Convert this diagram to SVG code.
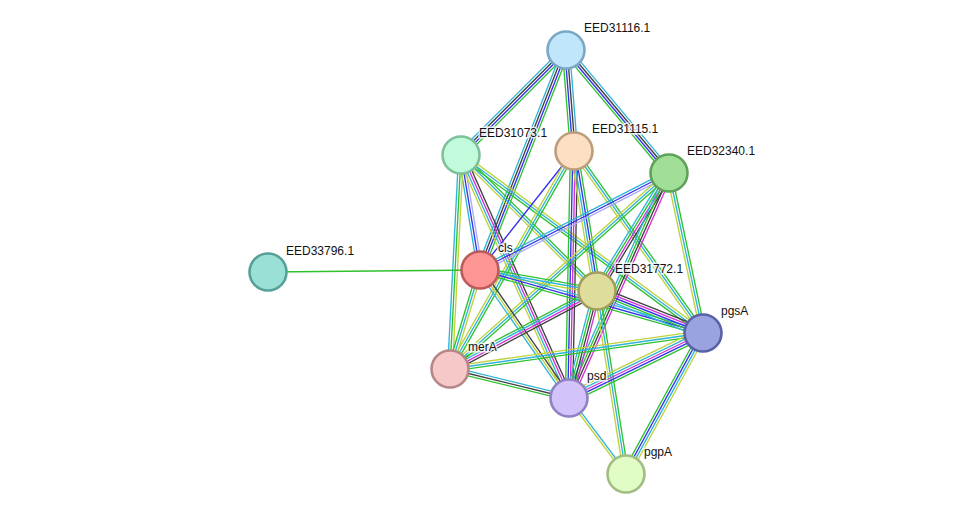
<svg xmlns="http://www.w3.org/2000/svg" width="975" height="519" viewBox="0 0 975 519">
<style>
line{stroke-width:1.35;fill:none}
.g{stroke:#2ec22e}.b{stroke:#3232f0}.k{stroke:#404040}.c{stroke:#30b4d8}.m{stroke:#d430d4}.y{stroke:#bfd23a}.p{stroke:#aaaaf5}
circle{stroke-width:2.6}
text{font-family:"Liberation Sans",Arial,sans-serif;font-size:12px;fill:#111;paint-order:stroke;stroke:#fff;stroke-width:3px;stroke-opacity:0.8}
</style>
<rect width="975" height="519" fill="#fff"/>
<g id="edges">
<g transform="translate(566,50) rotate(135)"><line x2="148.5" y1="-3.6" y2="-3.6" class="g"/><line x2="148.5" y1="-1.2" y2="-1.2" class="b"/><line x2="148.5" y1="1.2" y2="1.2" class="k"/><line x2="148.5" y1="3.6" y2="3.6" class="c"/></g>
<g transform="translate(566,50) rotate(111.35)"><line x2="236.2" y1="-3.6" y2="-3.6" class="g"/><line x2="236.2" y1="-1.2" y2="-1.2" class="b"/><line x2="236.2" y1="1.2" y2="1.2" class="k"/><line x2="236.2" y1="3.6" y2="3.6" class="c"/></g>
<g transform="translate(566,50) rotate(85.47)"><line x2="101.3" y1="-3.6" y2="-3.6" class="c"/><line x2="101.3" y1="-1.2" y2="-1.2" class="k"/><line x2="101.3" y1="1.2" y2="1.2" class="b"/><line x2="101.3" y1="3.6" y2="3.6" class="g"/></g>
<g transform="translate(566,50) rotate(50.06)"><line x2="160.4" y1="-3.6" y2="-3.6" class="c"/><line x2="160.4" y1="-1.2" y2="-1.2" class="k"/><line x2="160.4" y1="1.2" y2="1.2" class="b"/><line x2="160.4" y1="3.6" y2="3.6" class="g"/></g>
<g transform="translate(461,155) rotate(80.62)"><line x2="116.6" y1="-2.4" y2="-2.4" class="p"/><line x2="116.6" y1="0" y2="0" class="b"/><line x2="116.6" y1="2.4" y2="2.4" class="c"/></g>
<g transform="translate(461,155) rotate(66.04)"><line x2="265.9" y1="-3.6" y2="-3.6" class="k"/><line x2="265.9" y1="-1.2" y2="-1.2" class="m"/><line x2="265.9" y1="1.2" y2="1.2" class="c"/><line x2="265.9" y1="3.6" y2="3.6" class="y"/></g>
<g transform="translate(461,155) rotate(92.94)"><line x2="214.3" y1="-2.4" y2="-2.4" class="y"/><line x2="214.3" y1="0" y2="0" class="g"/><line x2="214.3" y1="2.4" y2="2.4" class="c"/></g>
<g transform="translate(461,155) rotate(45)"><line x2="192.3" y1="-2.4" y2="-2.4" class="g"/><line x2="192.3" y1="0" y2="0" class="c"/><line x2="192.3" y1="2.4" y2="2.4" class="y"/></g>
<g transform="translate(461,155) rotate(36.33)"><line x2="300.4" y1="-2.4" y2="-2.4" class="y"/><line x2="300.4" y1="0" y2="0" class="c"/><line x2="300.4" y1="2.4" y2="2.4" class="g"/></g>
<g transform="translate(574,151) rotate(128.3)"><line x2="151.6" class="b"/></g>
<g transform="translate(574,151) rotate(91.16)"><line x2="247" y1="-3.6" y2="-3.6" class="k"/><line x2="247" y1="-1.2" y2="-1.2" class="m"/><line x2="247" y1="1.2" y2="1.2" class="b"/><line x2="247" y1="3.6" y2="3.6" class="g"/></g>
<g transform="translate(574,151) rotate(80.67)"><line x2="141.9" y1="-3.6" y2="-3.6" class="g"/><line x2="141.9" y1="-1.2" y2="-1.2" class="b"/><line x2="141.9" y1="1.2" y2="1.2" class="c"/><line x2="141.9" y1="3.6" y2="3.6" class="y"/></g>
<g transform="translate(574,151) rotate(119.63)"><line x2="250.8" y1="-2.4" y2="-2.4" class="g"/><line x2="250.8" y1="0" y2="0" class="c"/><line x2="250.8" y1="2.4" y2="2.4" class="y"/></g>
<g transform="translate(574,151) rotate(54.67)"><line x2="223.1" y1="-2.4" y2="-2.4" class="g"/><line x2="223.1" y1="0" y2="0" class="c"/><line x2="223.1" y1="2.4" y2="2.4" class="y"/></g>
<g transform="translate(669,173) rotate(152.83)"><line x2="212.4" y1="-2.4" y2="-2.4" class="p"/><line x2="212.4" y1="0" y2="0" class="b"/><line x2="212.4" y1="2.4" y2="2.4" class="c"/></g>
<g transform="translate(669,173) rotate(121.39)"><line x2="138.2" y1="-3.6" y2="-3.6" class="k"/><line x2="138.2" y1="-1.2" y2="-1.2" class="m"/><line x2="138.2" y1="1.2" y2="1.2" class="g"/><line x2="138.2" y1="3.6" y2="3.6" class="c"/></g>
<g transform="translate(669,173) rotate(138.17)"><line x2="293.9" y1="-2.4" y2="-2.4" class="g"/><line x2="293.9" y1="0" y2="0" class="c"/><line x2="293.9" y1="2.4" y2="2.4" class="y"/></g>
<g transform="translate(669,173) rotate(113.96)"><line x2="246.2" y1="-3.6" y2="-3.6" class="m"/><line x2="246.2" y1="-1.2" y2="-1.2" class="k"/><line x2="246.2" y1="1.2" y2="1.2" class="g"/><line x2="246.2" y1="3.6" y2="3.6" class="c"/></g>
<g transform="translate(669,173) rotate(78)"><line x2="163.6" y1="-2.4" y2="-2.4" class="g"/><line x2="163.6" y1="0" y2="0" class="c"/><line x2="163.6" y1="2.4" y2="2.4" class="y"/></g>
<g transform="translate(480,270) rotate(179.46)"><line x2="212" class="g"/></g>
<g transform="translate(480,270) rotate(10.18)"><line x2="118.9" y1="-2.4" y2="-2.4" class="g"/><line x2="118.9" y1="0" y2="0" class="c"/><line x2="118.9" y1="2.4" y2="2.4" class="y"/></g>
<g transform="translate(480,270) rotate(15.78)"><line x2="231.7" y1="-2.4" y2="-2.4" class="c"/><line x2="231.7" y1="0" y2="0" class="b"/><line x2="231.7" y1="2.4" y2="2.4" class="g"/></g>
<g transform="translate(480,270) rotate(55.19)"><line x2="155.9" y1="-2.4" y2="-2.4" class="k"/><line x2="155.9" y1="0" y2="0" class="y"/><line x2="155.9" y1="2.4" y2="2.4" class="c"/></g>
<g transform="translate(480,270) rotate(106.86)"><line x2="103.4" y1="-2.4" y2="-2.4" class="y"/><line x2="103.4" y1="0" y2="0" class="c"/><line x2="103.4" y1="2.4" y2="2.4" class="g"/></g>
<g transform="translate(597,291) rotate(152.05)"><line x2="166.4" y1="-3.6" y2="-3.6" class="k"/><line x2="166.4" y1="-1.2" y2="-1.2" class="m"/><line x2="166.4" y1="1.2" y2="1.2" class="c"/><line x2="166.4" y1="3.6" y2="3.6" class="g"/></g>
<g transform="translate(597,291) rotate(104.66)"><line x2="110.6" y1="-3.6" y2="-3.6" class="m"/><line x2="110.6" y1="-1.2" y2="-1.2" class="k"/><line x2="110.6" y1="1.2" y2="1.2" class="g"/><line x2="110.6" y1="3.6" y2="3.6" class="c"/></g>
<g transform="translate(597,291) rotate(21.62)"><line x2="114" y1="-4.8" y2="-4.8" class="k"/><line x2="114" y1="-2.4" y2="-2.4" class="m"/><line x2="114" y1="0" y2="0" class="b"/><line x2="114" y1="2.4" y2="2.4" class="g"/><line x2="114" y1="4.8" y2="4.8" class="c"/></g>
<g transform="translate(597,291) rotate(81)"><line x2="185.3" y1="-2.4" y2="-2.4" class="g"/><line x2="185.3" y1="0" y2="0" class="c"/><line x2="185.3" y1="2.4" y2="2.4" class="y"/></g>
<g transform="translate(450,369) rotate(13.7)"><line x2="122.5" y1="-2.4" y2="-2.4" class="c"/><line x2="122.5" y1="0" y2="0" class="k"/><line x2="122.5" y1="2.4" y2="2.4" class="g"/></g>
<g transform="translate(450,369) rotate(-8.1)"><line x2="255.5" y1="-2.4" y2="-2.4" class="y"/><line x2="255.5" y1="0" y2="0" class="c"/><line x2="255.5" y1="2.4" y2="2.4" class="g"/></g>
<g transform="translate(569,398) rotate(-25.88)"><line x2="148.9" y1="-4.8" y2="-4.8" class="y"/><line x2="148.9" y1="-2.4" y2="-2.4" class="c"/><line x2="148.9" y1="0" y2="0" class="m"/><line x2="148.9" y1="2.4" y2="2.4" class="b"/><line x2="148.9" y1="4.8" y2="4.8" class="g"/></g>
<g transform="translate(569,398) rotate(53.13)"><line x2="95" y1="-1.2" y2="-1.2" class="c"/><line x2="95" y1="1.2" y2="1.2" class="y"/></g>
<g transform="translate(703,333) rotate(118.64)"><line x2="160.7" y1="-3.6" y2="-3.6" class="y"/><line x2="160.7" y1="-1.2" y2="-1.2" class="c"/><line x2="160.7" y1="1.2" y2="1.2" class="b"/><line x2="160.7" y1="3.6" y2="3.6" class="g"/></g>
</g>
<g id="n-EED31116"><circle cx="566" cy="50" r="18.5" fill="#c0e6fb" stroke="#7aa7c3"/><text x="584" y="32">EED31116.1</text></g>
<g id="n-EED31073"><circle cx="461" cy="155" r="18.5" fill="#c2fadc" stroke="#7fc19b"/><text x="479" y="137">EED31073.1</text></g>
<g id="n-EED31115"><circle cx="574" cy="151" r="18.5" fill="#fde0c3" stroke="#bc9e7c"/><text x="592" y="133">EED31115.1</text></g>
<g id="n-EED32340"><circle cx="669" cy="173" r="18.5" fill="#a1de97" stroke="#5fa25a"/><text x="687" y="155">EED32340.1</text></g>
<g id="n-EED33796"><circle cx="268" cy="272" r="18.5" fill="#9be0d6" stroke="#56a097"/><text x="286" y="255">EED33796.1</text></g>
<g id="n-cls"><circle cx="480" cy="270" r="18.5" fill="#fd9595" stroke="#bc5b5b"/><text x="498" y="252">cls</text></g>
<g id="n-EED31772"><circle cx="597" cy="291" r="18.5" fill="#dedd9b" stroke="#a09f5d"/><text x="615" y="273">EED31772.1</text></g>
<g id="n-pgsA"><circle cx="703" cy="333" r="18.5" fill="#9aa3e0" stroke="#5862a5"/><text x="721" y="315">pgsA</text></g>
<g id="n-merA"><circle cx="450" cy="369" r="18.5" fill="#f6c8c8" stroke="#b58787"/><text x="468" y="351">merA</text></g>
<g id="n-psd"><circle cx="569" cy="398" r="18.5" fill="#d2c3fa" stroke="#9082c3"/><text x="587" y="380">psd</text></g>
<g id="n-pgpA"><circle cx="626" cy="474" r="18.5" fill="#e1fcc4" stroke="#a1bd84"/><text x="644" y="456">pgpA</text></g>
</svg>
